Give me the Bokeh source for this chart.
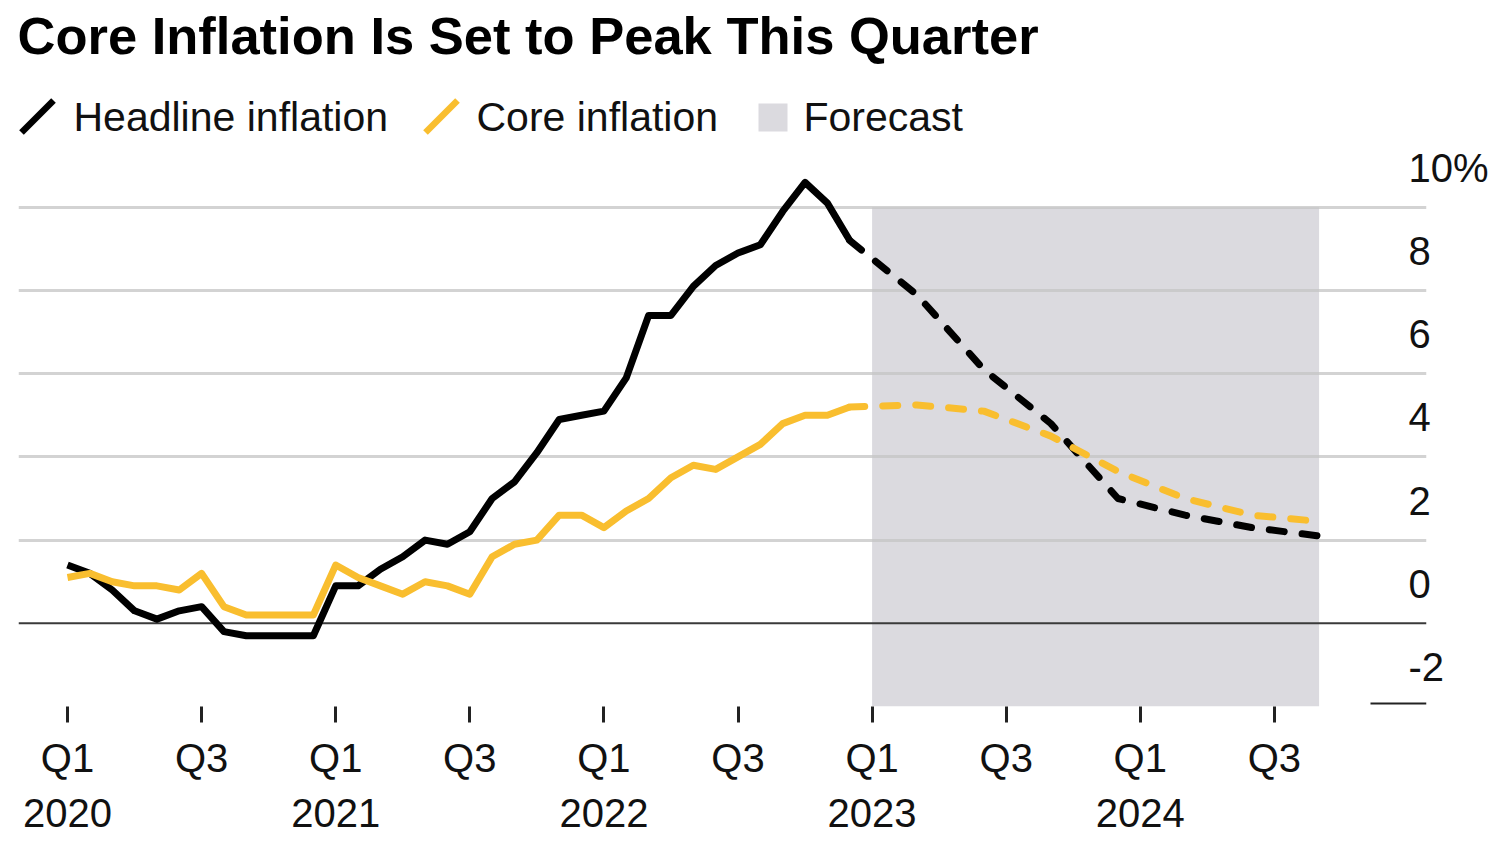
import pandas as pd
from bokeh.plotting import figure
from bokeh.models import Range1d, LinearAxis, FixedTicker, Span, Grid
from bokeh.core.properties import value
from bokeh.embed import file_html
from bokeh.resources import INLINE

# ---------------- data ----------------
title_text = "Core Inflation Is Set to Peak This Quarter"
legend_labels = ["Headline inflation", "Core inflation", "Forecast"]

months = [m.strftime("%Y-%m") for m in pd.period_range("2020-01", "2022-12", freq="M")]
headline = [1.4, 1.2, 0.8, 0.3, 0.1, 0.3, 0.4, -0.2, -0.3, -0.3, -0.3, -0.3,
            0.9, 0.9, 1.3, 1.6, 2.0, 1.9, 2.2, 3.0, 3.4, 4.1, 4.9, 5.0,
            5.1, 5.9, 7.4, 7.4, 8.1, 8.6, 8.9, 9.1, 9.9, 10.6, 10.1, 9.2]
core = [1.1, 1.2, 1.0, 0.9, 0.9, 0.8, 1.2, 0.4, 0.2, 0.2, 0.2, 0.2,
        1.4, 1.1, 0.9, 0.7, 1.0, 0.9, 0.7, 1.6, 1.9, 2.0, 2.6, 2.6,
        2.3, 2.7, 3.0, 3.5, 3.8, 3.7, 4.0, 4.3, 4.8, 5.0, 5.0, 5.2]

forecast_months = ["2022-12", "2023-03", "2023-06", "2023-09", "2023-12", "2024-03", "2024-06", "2024-09"]
headline_forecast = [9.2, 7.9, 6.1, 4.8, 3.0, 2.6, 2.3, 2.1]
core_forecast = [5.2, 5.25, 5.1, 4.5, 3.65, 3.0, 2.6, 2.45]

forecast_start = "2023-01"
forecast_end = "2024-09"
forecast_top = 10

tick_months = ["2020-01", "2020-07", "2021-01", "2021-07", "2022-01", "2022-07",
               "2023-01", "2023-07", "2024-01", "2024-07"]
tick_labels = ["Q1\n2020", "Q3", "Q1\n2021", "Q3", "Q1\n2022", "Q3",
               "Q1\n2023", "Q3", "Q1\n2024", "Q3"]
y_ticks = [-2, 0, 2, 4, 6, 8, 10]
y_tick_labels = ["-2", "0", "2", "4", "6", "8", "10%"]


def midx(m):
    y, mo = m.split("-")
    return (int(y) - 2020) * 12 + int(mo) - 1


# ---------------- layout ----------------
FONT = value("Liberation Sans")
BLACK = "#000000"
YELLOW = "#f9be2f"
BAND = "#dbdadf"
PX_X = 22.35          # px per month
PX_Y = 41.6           # px per percentage point
FRAME_W = 1408
FRAME_H = 698
BORDER_L = 18
BORDER_T = 8
FRAME_LEFT_SCREEN = BORDER_L
FRAME_TOP_SCREEN = BORDER_T

x_start = -(67 - FRAME_LEFT_SCREEN) / PX_X
x_end = x_start + FRAME_W / PX_X
y_start = -2
y_end = y_start + FRAME_H / PX_Y


def dx(sx):
    return x_start + (sx - FRAME_LEFT_SCREEN) / PX_X


def dy(sy):
    return y_end - (sy - FRAME_TOP_SCREEN) / PX_Y


p = figure(frame_width=FRAME_W, frame_height=FRAME_H,
           x_range=Range1d(x_start, x_end), y_range=Range1d(y_start, y_end),
           output_backend="svg", toolbar_location=None,
           x_axis_location="below", y_axis_location=None,
           min_border_left=BORDER_L, min_border_right=0,
           min_border_top=BORDER_T, min_border_bottom=128)
p.outline_line_color = None
p.background_fill_color = "white"
p.border_fill_color = "white"
p.xgrid.visible = False
p.ygrid.visible = False

# forecast band
p.quad(left=[midx(forecast_start)], right=[midx(forecast_end)],
       bottom=[y_ticks[0]], top=[forecast_top],
       fill_color=BAND, line_color=None, level="image")

# grid
grid = Grid(dimension=1, ticker=FixedTicker(ticks=[t for t in y_ticks if t > 0]),
            grid_line_color="#c4c4c4", grid_line_alpha=0.75, grid_line_width=3,
            level="underlay")
p.add_layout(grid)
zero = Span(location=0, dimension="width", line_color="#3a3a3a", line_width=2,
            level="underlay")
p.add_layout(zero)
# short baseline at -2 on the right
p.segment(x0=[dx(1370)], x1=[x_end], y0=[y_ticks[0] + 3 / PX_Y], y1=[y_ticks[0] + 3 / PX_Y],
          line_color="#222222", line_width=2)

# series
x_hist = [midx(m) for m in months]
x_fc = [midx(m) for m in forecast_months]
p.line(x_hist, headline, line_color=BLACK, line_width=7, line_join="round")
p.line(x_hist, core, line_color=YELLOW, line_width=7, line_join="round")
p.line(x_fc, headline_forecast, line_color=BLACK, line_width=7, line_dash="15 18",
       line_cap="round", line_join="round")
p.line(x_fc, core_forecast, line_color=YELLOW, line_width=7, line_dash="15 18",
       line_cap="round", line_join="round")

# title
p.text(x=[dx(17)], y=[dy(35)], text=[title_text], text_font=FONT,
       text_font_size="52.5px", text_font_style="bold", text_color=BLACK,
       text_baseline="alphabetic", text_align="left")

# legend
p.segment(x0=[dx(21), dx(425)], y0=[dy(132), dy(132)],
          x1=[dx(53), dx(457)], y1=[dy(100), dy(100)],
          line_color=[BLACK, YELLOW], line_width=6.5)
p.quad(left=[dx(758)], right=[dx(787)], top=[dy(103)], bottom=[dy(131)],
       fill_color=BAND, line_color=None)
p.text(x=[dx(73), dx(476), dx(803)], y=[dy(116)] * 3, text=legend_labels,
       text_font=FONT, text_font_size="41px", text_color="#111111",
       text_baseline="alphabetic", text_align="left")

# x axis
xa = p.xaxis[0]
xa.ticker = FixedTicker(ticks=[midx(m) for m in tick_months])
xa.major_label_overrides = {midx(m): lab for m, lab in zip(tick_months, tick_labels)}
xa.axis_line_color = None
xa.minor_tick_line_color = None
xa.major_tick_in = 0
xa.major_tick_out = 16
xa.major_tick_line_width = 3
xa.major_tick_line_color = "#222222"
xa.major_label_text_font = "Liberation Sans"
xa.major_label_text_font_size = "40px"
xa.major_label_text_color = "#111111"
xa.major_label_text_line_height = 1.25
xa.major_label_standoff = 13

# right axis with labels sitting above their gridlines
p.extra_y_ranges = {"labels": Range1d(y_start - 0.95, y_end - 0.95)}
ya = LinearAxis(y_range_name="labels", ticker=FixedTicker(ticks=y_ticks),
                major_label_overrides=dict(zip(y_ticks, y_tick_labels)))
ya.axis_line_color = None
ya.major_tick_line_color = None
ya.minor_tick_line_color = None
ya.major_tick_in = 0
ya.major_tick_out = 0
ya.major_label_standoff = -18
ya.major_label_text_font = "Liberation Sans"
ya.major_label_text_font_size = "40px"
ya.major_label_text_color = "#111111"
p.add_layout(ya, "right")

open("out.html", "w").write(file_html(p, INLINE))
